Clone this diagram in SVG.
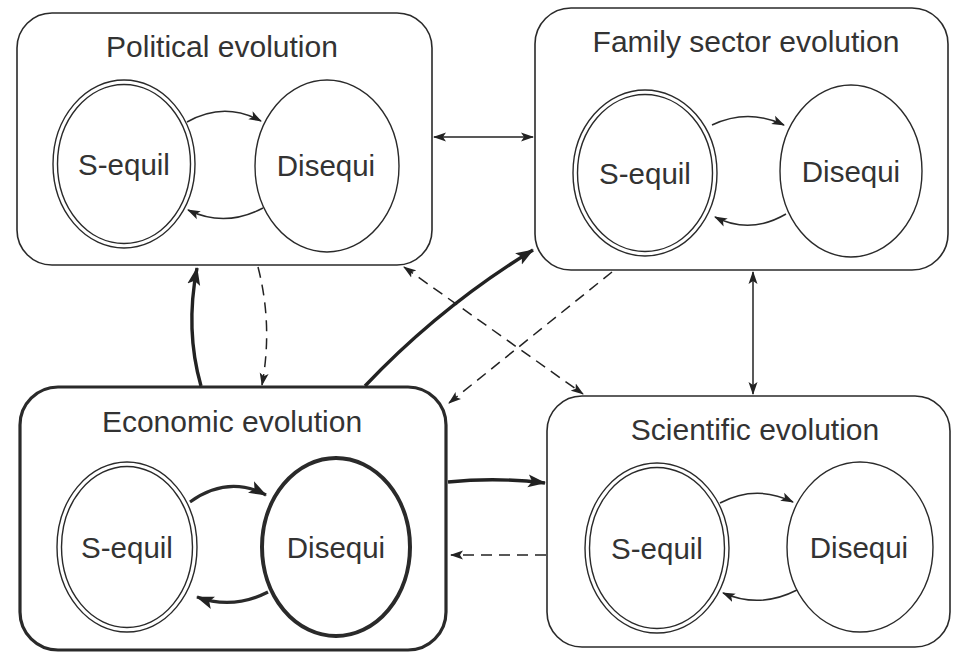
<svg xmlns="http://www.w3.org/2000/svg" width="956" height="653" viewBox="0 0 956 653">
<defs>
<style>
.box{fill:none;stroke:#2a2a2a;stroke-width:1.6}
.box.bold{stroke-width:3.2}
.el{fill:none;stroke:#2a2a2a;stroke-width:1.4}
.el.bold{stroke-width:4}
.title{font-family:"Liberation Sans",Arial,sans-serif;font-size:30px;fill:#333;text-anchor:middle}
.lbl{font-family:"Liberation Sans",Arial,sans-serif;font-size:29.5px;fill:#333;text-anchor:middle}
.c{fill:none;stroke:#222;stroke-width:1.5}
.c.thick{stroke-width:3.4}
.c.dash{stroke-dasharray:11 7}
.loop{fill:none;stroke:#2a2a2a;stroke-width:1.5}
.loop.thick{stroke-width:3.2}
</style>
<marker id="a" markerUnits="userSpaceOnUse" markerWidth="13" markerHeight="10" refX="12" refY="5" orient="auto-start-reverse"><path d="M0,0.5 L13,5 L0,9.5 L3,5 z" fill="#222"/></marker>
<marker id="ab" markerUnits="userSpaceOnUse" markerWidth="18" markerHeight="14" refX="17" refY="7" orient="auto-start-reverse"><path d="M0,0.5 L18,7 L0,13.5 L4,7 z" fill="#222"/></marker>
</defs>
<rect width="956" height="653" fill="#fff"/>

<g id="political">
<rect class="box" x="17" y="13" width="415" height="252" rx="35"/>
<text class="title" x="222" y="57">Political evolution</text>
<ellipse class="el" cx="124" cy="164" rx="71" ry="84"/>
<ellipse class="el" cx="124" cy="164" rx="66.5" ry="79.5"/>
<ellipse class="el" cx="327" cy="166" rx="72" ry="86"/>
<text class="lbl" x="124" y="175">S-equil</text>
<text class="lbl" x="326" y="176">Disequi</text>
<path class="loop" d="M187,122 Q224,101 261,121" marker-end="url(#a)"/>
<path class="loop" d="M263,208 Q225,228 188,210" marker-end="url(#a)"/>
</g>

<g id="family">
<rect class="box" x="535" y="8" width="413" height="262" rx="36"/>
<text class="title" x="746" y="52">Family sector evolution</text>
<ellipse class="el" cx="645" cy="173" rx="72" ry="83"/>
<ellipse class="el" cx="645" cy="173" rx="67.5" ry="78.5"/>
<ellipse class="el" cx="851" cy="171" rx="71" ry="86"/>
<text class="lbl" x="645" y="184">S-equil</text>
<text class="lbl" x="851" y="182">Disequi</text>
<path class="loop" d="M712,125 Q748,108 784,125" marker-end="url(#a)"/>
<path class="loop" d="M786,214 Q750,235 715,217" marker-end="url(#a)"/>
</g>

<g id="economic">
<rect class="box bold" x="20" y="387" width="426" height="263" rx="38"/>
<text class="title" x="232" y="432">Economic evolution</text>
<ellipse class="el" cx="127" cy="547" rx="70" ry="85"/>
<ellipse class="el" cx="127" cy="547" rx="65.5" ry="80.5"/>
<ellipse class="el bold" cx="336" cy="547" rx="74" ry="89"/>
<text class="lbl" x="127" y="558">S-equil</text>
<text class="lbl" x="336" y="558">Disequi</text>
<path class="loop thick" d="M190,502 Q228,475 266,495" marker-end="url(#ab)"/>
<path class="loop thick" d="M268,592 Q233,610 197,597" marker-end="url(#ab)"/>
</g>

<g id="scientific">
<rect class="box" x="547" y="396" width="403" height="251" rx="35"/>
<text class="title" x="755" y="440">Scientific evolution</text>
<ellipse class="el" cx="657" cy="548" rx="72" ry="85"/>
<ellipse class="el" cx="657" cy="548" rx="67.5" ry="80.5"/>
<ellipse class="el" cx="860" cy="547" rx="73" ry="85"/>
<text class="lbl" x="657" y="559">S-equil</text>
<text class="lbl" x="859" y="558">Disequi</text>
<path class="loop" d="M720,503 Q756,484 793,502" marker-end="url(#a)"/>
<path class="loop" d="M797,590 Q760,609 723,593" marker-end="url(#a)"/>
</g>

<g id="connectors">
<path class="c" d="M434,137 L533,137" marker-start="url(#a)" marker-end="url(#a)"/>
<path class="c" d="M753,272 L753,394" marker-start="url(#a)" marker-end="url(#a)"/>
<path class="c thick" d="M201,386 Q185,330 197,268" marker-end="url(#ab)"/>
<path class="c dash" d="M258,267 Q273,325 262,385" marker-end="url(#a)"/>
<path class="c thick" d="M365,386 Q441,306 533,250" marker-end="url(#ab)"/>
<path class="c dash" d="M404,267 L583,394" marker-start="url(#a)" marker-end="url(#a)"/>
<path class="c dash" d="M612,272 L449,403" marker-end="url(#a)"/>
<path class="c thick" d="M448,482 Q497,477 545,483" marker-end="url(#ab)"/>
<path class="c dash" d="M546,555 L451,555" marker-end="url(#a)"/>
</g>
</svg>
